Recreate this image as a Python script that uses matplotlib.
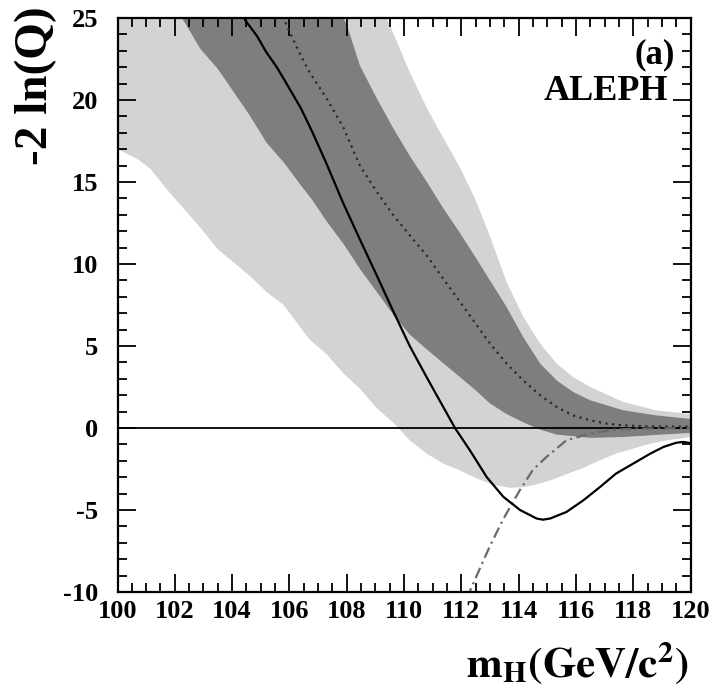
import numpy as np
import matplotlib
matplotlib.use('Agg')
import matplotlib.pyplot as plt
from matplotlib.ticker import MultipleLocator

plt.rcParams['font.family'] = ['Liberation Serif', 'DejaVu Serif']
plt.rcParams['font.weight'] = 'bold'
plt.rcParams['mathtext.fontset'] = 'stix'
plt.rcParams['axes.unicode_minus'] = False

# 2 sigma band (light)
light_lo_x = [100.0, 100.7, 101.15, 101.7, 102.3, 102.9, 103.5, 104.05, 104.6, 105.2, 105.8,
              106.7, 107.3, 107.9, 108.46, 109.05, 109.63, 110.2, 110.79, 111.37, 111.95, 112.5,
              113.1, 113.7, 114.2, 114.6, 115.1, 115.7, 116.3, 116.8, 117.4, 118.0, 118.6,
              119.2, 120.0]
light_lo_y = [17.0, 16.4, 15.8, 14.6, 13.4, 12.2, 10.9, 10.1, 9.3, 8.3, 7.5,
              5.4, 4.5, 3.3, 2.4, 1.2, 0.32, -0.75, -1.56, -2.17, -2.58, -3.05,
              -3.45, -3.65, -3.6, -3.45, -3.2, -2.8, -2.4, -2.0, -1.56, -1.26, -0.95,
              -0.75, -0.55]
light_hi_x = [100.0, 104.0, 108.0, 109.4, 110.2, 110.8, 111.4, 111.95, 112.5, 113.0, 113.58,
              114.16, 114.75, 115.33, 115.9, 116.5, 117.65, 118.8, 120.0]
light_hi_y = [60.0, 44.0, 30.8, 25.0, 21.7, 19.5, 17.6, 15.9, 13.9, 11.7, 8.9,
              6.8, 5.15, 3.93, 3.11, 2.5, 1.59, 1.08, 0.85]

# 1 sigma band (dark)
dark_lo_x = [101.8, 102.25, 102.9, 103.5, 104.05, 104.6, 105.2, 105.8, 106.4, 106.8, 107.3,
             107.9, 108.46, 109.05, 109.63, 110.2, 110.79, 111.37, 111.95, 112.5, 113.0,
             113.58, 114.16, 114.75, 115.33, 116.5, 117.65, 119.0, 120.0]
dark_lo_y = [26.5, 25.0, 23.1, 21.9, 20.5, 19.1, 17.4, 16.2, 14.8, 13.9, 12.6,
             11.2, 9.7, 8.3, 6.9, 5.7, 4.8, 3.95, 3.11, 2.3, 1.5,
             0.85, 0.35, -0.1, -0.4, -0.6, -0.55, -0.4, -0.3]
dark_hi_x = [101.8, 105.0, 108.0, 108.46, 109.05, 109.63, 110.2, 110.8, 111.37, 111.95, 112.5,
             113.0, 113.58, 114.16, 114.75, 115.33, 115.9, 116.5, 117.65, 118.8, 120.0]
dark_hi_y = [50.0, 35.0, 24.6, 22.1, 20.1, 18.26, 16.6, 15.0, 13.4, 11.9, 10.4,
             9.0, 7.38, 5.55, 3.93, 2.9, 2.2, 1.69, 1.08, 0.77, 0.55]

# median expected (background)
exp_b_x = [105.7, 105.9, 106.4, 106.7, 107.3, 107.9, 108.46, 109.05, 109.63, 110.2, 110.8,
           111.37, 111.95, 112.5, 113.0, 113.58, 114.16, 114.75, 115.33, 115.9, 116.5,
           117.07, 117.65, 118.5, 120.0]
exp_b_y = [25.5, 24.55, 22.7, 21.7, 20.1, 18.26, 16.0, 14.4, 12.97, 11.75, 10.5,
           9.1, 7.7, 6.37, 5.15, 3.93, 2.9, 2.0, 1.28, 0.77, 0.47,
           0.27, 0.16, 0.1, 0.08]

# expected signal + background
exp_sb_x = [112.2, 112.3, 112.87, 113.0, 113.45, 114.04, 114.5, 114.97, 115.67, 116.5,
            117.3, 118.0, 119.0, 120.0]
exp_sb_y = [-10.4, -9.94, -7.7, -7.2, -5.6, -3.8, -2.55, -1.77, -0.75, -0.34,
            -0.1, -0.05, -0.02, -0.01]

# observed
obs_x = [104.35, 104.46, 104.87, 105.2, 105.56, 105.8, 106.1, 106.4, 106.8, 107.3,
         107.88, 108.46, 109.05, 109.63, 110.2, 110.79, 111.37, 111.78, 112.3, 112.89, 113.47,
         114.05, 114.63, 114.85, 115.1, 115.67, 116.26, 116.84, 117.4, 118.0, 118.6, 119.05,
         119.5, 119.75, 120.0]
obs_y = [25.5, 24.86, 23.9, 22.9, 22.0, 21.3, 20.4, 19.5, 18.05, 16.1,
         13.7, 11.5, 9.3, 7.1, 5.0, 3.1, 1.28, 0.0, -1.36, -3.0, -4.2,
         -5.0, -5.52, -5.59, -5.52, -5.12, -4.41, -3.6, -2.78, -2.17, -1.56, -1.16,
         -0.9, -0.85, -0.92]

fig = plt.figure(figsize=(7.13, 6.94), dpi=100)
ax = fig.add_axes([117.5/713, 1 - 592/694, (690.5 - 117.5)/713, (592 - 18)/694])

ax.fill(np.concatenate([light_hi_x, light_lo_x[::-1]]),
        np.concatenate([light_hi_y, light_lo_y[::-1]]),
        color='#d3d3d3', lw=0)
ax.fill(np.concatenate([dark_hi_x, dark_lo_x[::-1]]),
        np.concatenate([dark_hi_y, dark_lo_y[::-1]]),
        color='#7e7e7e', lw=0)

ax.axhline(0, color='black', lw=1.3)
ax.plot(exp_b_x, exp_b_y, color='#2a2a2a', lw=1.6, ls=(0, (1, 2)))
ax.plot(exp_sb_x, exp_sb_y, color='#6a6a6a', lw=1.6, ls=(0, (5, 2, 1, 2)))
ax.plot(obs_x, obs_y, color='black', lw=1.6)

ax.set_xlim(100, 120)
ax.set_ylim(-10, 25)
ax.xaxis.set_major_locator(MultipleLocator(2))
ax.xaxis.set_minor_locator(MultipleLocator(0.5))
ax.yaxis.set_major_locator(MultipleLocator(5))
ax.yaxis.set_minor_locator(MultipleLocator(1))
ax.tick_params(which='both', direction='in', top=True, right=True, width=1.3)
ax.tick_params(which='major', length=13)
ax.tick_params(which='minor', length=6.5)
ax.tick_params(axis='x', labelsize=19, pad=6)
ax.tick_params(axis='y', labelsize=19, pad=14)
for s in ax.spines.values():
    s.set_linewidth(1.6)

# labels inside the frame, positions in figure pixels from the top
fig.text(675/713, 1 - 55/694, '(a)', ha='right', va='center', fontsize=25, fontweight='bold')
fig.text(668/713, 1 - 91/694, 'ALEPH', ha='right', va='center', fontsize=26, fontweight='bold')

fig.text(36/713, 1 - 6/694, '-2 ln(Q)', rotation=90, ha='center', va='top',
         fontsize=34, fontweight='bold')
fig.text(689/713, 1 - 677/694, r'$\mathbf{m_H(GeV/c^2)}$', ha='right', va='baseline',
         fontsize=31)

fig.savefig('out.png', dpi=100)
